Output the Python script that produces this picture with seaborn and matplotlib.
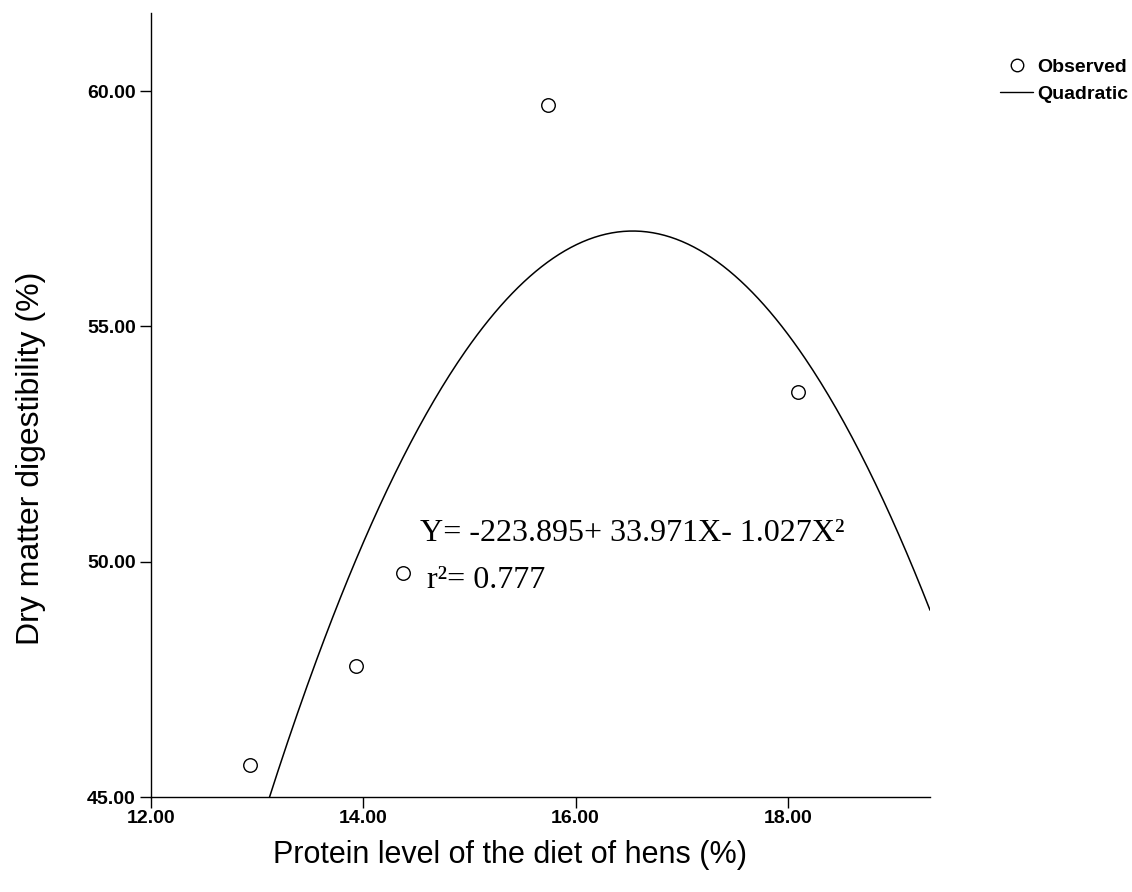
import numpy as np
import pandas as pd
import matplotlib
matplotlib.use("Agg")
import matplotlib.pyplot as plt
import seaborn as sns
from matplotlib.lines import Line2D

protein = [12.93, 13.93, 14.37, 15.74, 18.10]
digestibility = [45.68, 47.79, 49.75, 59.70, 53.60]

# fitted quadratic: Y = b0 + b1*X + b2*X^2
coef = [-223.895, 33.971, -1.027]
r2 = 0.777

x_ticks = [12.0, 14.0, 16.0, 18.0]
y_ticks = [45.0, 50.0, 55.0, 60.0]

sns.set_style("white")
plt.rcParams["font.family"] = ["Liberation Sans", "DejaVu Sans"]
plt.rcParams["text.color"] = "black"
plt.rcParams["axes.labelcolor"] = "black"
plt.rcParams["xtick.color"] = "black"
plt.rcParams["ytick.color"] = "black"

fig = plt.figure(figsize=(11.32, 8.92), dpi=100)
ax = fig.add_axes([0.1334, 0.1065, 0.8216 - 0.1334, 0.9854 - 0.1065])

xmin, xmax = 12.0, 19.34
ymin, ymax = 45.0, 61.66

xs = np.linspace(xmin, xmax, 400)
fit = pd.DataFrame({"x": xs, "y": coef[0] + coef[1] * xs + coef[2] * xs ** 2})
sns.lineplot(data=fit, x="x", y="y", ax=ax, color="black", linewidth=1.1)

obs = pd.DataFrame({"x": protein, "y": digestibility})
sns.scatterplot(data=obs, x="x", y="y", ax=ax, s=95, facecolor="white",
                edgecolor="black", linewidth=1.0, zorder=3)

ax.set_xlim(xmin, xmax)
ax.set_ylim(ymin, ymax)
ax.set_xticks(x_ticks)
ax.set_yticks(y_ticks)
ax.set_xticklabels([f"{v:.2f}" for v in x_ticks], fontsize=14, fontweight="bold")
ax.set_yticklabels([f"{v:.2f}" for v in y_ticks], fontsize=14, fontweight="bold")
ax.tick_params(axis="both", direction="out", length=8, width=1, color="black",
               bottom=True, left=True)
ax.tick_params(axis="y", pad=3)
ax.tick_params(axis="x", pad=1)

for side in ["top", "right"]:
    ax.spines[side].set_visible(False)
for side in ["left", "bottom"]:
    ax.spines[side].set_color("black")
    ax.spines[side].set_linewidth(1.0)

ax.set_xlabel("Protein level of the diet of hens (%)", fontsize=22)
ax.set_ylabel("Dry matter digestibility (%)", fontsize=23)
ax.xaxis.set_label_coords(0.461, -0.055)
ax.yaxis.set_label_coords(-0.135, 0.432)

ax.text(14.53, 50.45, "Y= -223.895+ 33.971X- 1.027X²", fontsize=23,
        family="Liberation Serif")
ax.text(14.6, 49.45, "r²= 0.777", fontsize=23, family="Liberation Serif")

handles = [
    Line2D([], [], marker="o", linestyle="none", markerfacecolor="white",
           markeredgecolor="black", markersize=9),
    Line2D([], [], color="black", linewidth=1.0),
]
fig.legend(handles, ["Observed", "Quadratic"], loc="upper left",
           bbox_to_anchor=(0.8834, 0.935), frameon=False, borderpad=0,
           borderaxespad=0, handlelength=1.7, handletextpad=0.2,
           labelspacing=0.5, prop={"size": 14, "weight": "bold"})

fig.savefig("out.png", dpi=100)
